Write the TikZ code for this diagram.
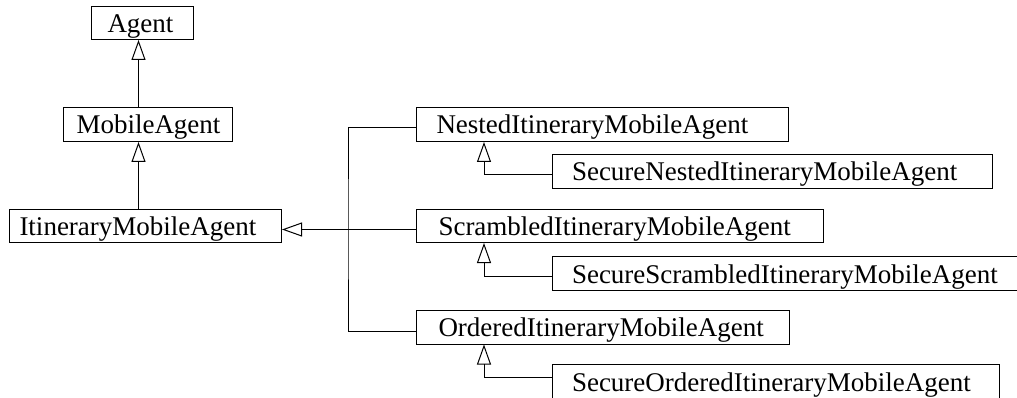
\documentclass[tikz,border=0pt]{standalone}
\usepackage{fontspec}
\setmainfont{Liberation Serif}
\usetikzlibrary{arrows.meta}

% class box: left, top, right, bottom, text indent, name, label
\newcommand\umlclass[7]{%
  \node[cls, minimum width={#3-#1}, minimum height={#4-#2}, anchor=north west]
    (#6) at (#1,#2) {\hspace*{#5pt}\makebox[\dimexpr #3pt-#1pt-#5pt\relax][l]{#7}};}

\tikzset{
  cls/.style={draw, line width=1pt, rectangle, inner sep=0pt, text height=19pt,
              text depth=0pt, font=\fontsize{27}{32}\selectfont},
  inh/.style={line width=1pt, -{Triangle[open, length=20pt, width=14pt]}},
  link/.style={line width=1pt}
}

\begin{document}
\begin{tikzpicture}[x=1pt, y=-1pt]
\useasboundingbox (0,0) rectangle (1017,398);
\clip (0,0) rectangle (1017,398);

% left column
\umlclass{90.5}{6}{193}{39}{16.5}{agent}{Agent}
\umlclass{63}{107}{232}{141}{13}{mobile}{MobileAgent}
\umlclass{9}{209}{281}{242}{10}{itin}{ItineraryMobileAgent}

% right column
\umlclass{416}{107}{788}{141}{20}{nested}{NestedItineraryMobileAgent}
\umlclass{551.5}{154}{992}{188}{20}{snested}{SecureNestedItineraryMobileAgent}
\umlclass{416}{209}{823}{242}{22}{scram}{ScrambledItineraryMobileAgent}
\umlclass{551.5}{256}{1030}{290}{20}{sscram}{SecureScrambledItineraryMobileAgent}
\umlclass{416}{310}{789}{343.5}{22}{ordered}{OrderedItineraryMobileAgent}
\umlclass{551.5}{364}{999}{399}{20}{sordered}{SecureOrderedItineraryMobileAgent}

% vertical inheritance chain
\draw[inh] ([xshift=-9.5pt]mobile.north) -- ([xshift=-9.5pt]mobile.north |- agent.south);
\draw[inh] ([xshift=-9.5pt]mobile.north |- itin.north) -- ([xshift=-9.5pt]mobile.south);

% bus joining the three itinerary subclasses
\coordinate (bus) at (348,229);
\draw[link] ([yshift=-3pt]nested.west) -| (bus) |- ([yshift=-4pt]ordered.west);
\draw[inh] ([yshift=-3.5pt]scram.west) -- ([yshift=-3.5pt]itin.east);

% secure subclasses
\draw[inh] ([yshift=-20.5pt]snested.north west) -| ([xshift=68pt]nested.south west);
\draw[inh] ([yshift=-20pt]sscram.north west) -| ([xshift=68pt]scram.south west);
\draw[inh] ([yshift=-13.5pt]sordered.north west) -| ([xshift=68pt]ordered.south west);
\end{tikzpicture}
\end{document}
